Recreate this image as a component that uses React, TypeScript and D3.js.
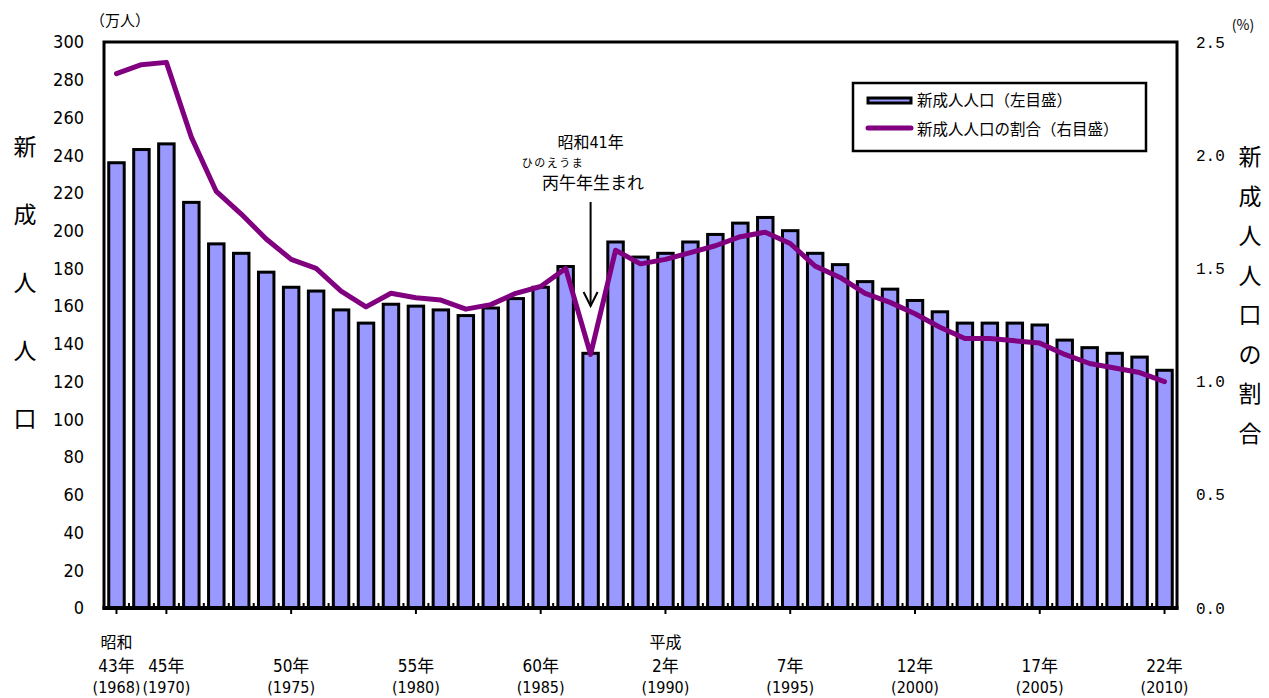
import * as d3 from 'd3';

// 1968..2010 (昭和43年〜平成22年)
const years = [
  1968, 1969, 1970, 1971, 1972, 1973, 1974, 1975, 1976, 1977, 1978, 1979,
  1980, 1981, 1982, 1983, 1984, 1985, 1986, 1987, 1988, 1989,
  1990, 1991, 1992, 1993, 1994, 1995, 1996, 1997, 1998, 1999,
  2000, 2001, 2002, 2003, 2004, 2005, 2006, 2007, 2008, 2009, 2010,
];

// 新成人人口（万人）
const population = [
  236, 243, 246, 215, 193, 188, 178, 170, 168, 158, 151, 161,
  160, 158, 155, 159, 164, 170, 181, 135, 194, 186,
  188, 194, 198, 204, 207, 200, 188, 182, 173, 169,
  163, 157, 151, 151, 151, 150, 142, 138, 135, 133, 126,
];

// 新成人人口の割合（%）
const ratio = [
  2.36, 2.40, 2.41, 2.08, 1.84, 1.74, 1.63, 1.54, 1.50, 1.40, 1.33, 1.39,
  1.37, 1.36, 1.32, 1.34, 1.39, 1.42, 1.50, 1.12, 1.58, 1.52,
  1.54, 1.57, 1.60, 1.64, 1.66, 1.61, 1.51, 1.46, 1.39, 1.35,
  1.30, 1.24, 1.19, 1.19, 1.18, 1.17, 1.12, 1.08, 1.06, 1.04, 1.00,
];

const leftTicks = [0, 20, 40, 60, 80, 100, 120, 140, 160, 180, 200, 220, 240, 260, 280, 300];
const rightTicks = [0, 0.5, 1.0, 1.5, 2.0, 2.5];

const tickYears = [1968, 1970, 1975, 1980, 1985, 1990, 1995, 2000, 2005, 2010];
const tickJp = ['43年', '45年', '50年', '55年', '60年', '2年', '7年', '12年', '17年', '22年'];
const eraLabels = [
  { year: 1968, text: '昭和' },
  { year: 1990, text: '平成' },
];

const leftTitle = ['新', '成', '人', '人', '口'];
const rightTitle = ['新', '成', '人', '人', '口', 'の', '割', '合'];

const hinoeYear = 1987;

const W = 1269;
const H = 698;
const plot = { left: 104, right: 1177, top: 42, bottom: 608 };

const NARROW = "'Liberation Sans Narrow', 'DejaVu Sans Condensed', 'Noto Sans CJK JP', sans-serif";
const JP = "'Noto Sans CJK JP', sans-serif";
const MONO = "'Liberation Mono', 'DejaVu Sans Mono', monospace";

const BAR_FILL = '#9999ff';
const LINE = '#800080';

export default function App() {
  const x = d3
    .scaleBand<number>()
    .domain(years)
    .range([plot.left, plot.right])
    .paddingInner(0)
    .paddingOuter(0);
  const cx = (yr: number) => (x(yr) ?? 0) + x.bandwidth() / 2;

  const yL = d3.scaleLinear().domain([0, 300]).range([plot.bottom, plot.top]);
  const yR = d3.scaleLinear().domain([0, 2.5]).range([plot.bottom, plot.top]);

  const barW = x.bandwidth() * 0.62;

  const line = d3
    .line<number>()
    .x((_, i) => cx(years[i]))
    .y((d) => yR(d));

  const arrowX = cx(hinoeYear);

  return (
    <svg
      width={W}
      height={H}
      style={{ position: 'absolute', left: 0, top: 0, background: '#fff' }}
    >
      {/* bars */}
      {years.map((yr, i) => (
        <rect
          key={yr}
          x={cx(yr) - barW / 2}
          y={yL(population[i])}
          width={barW}
          height={plot.bottom - yL(population[i])}
          fill={BAR_FILL}
          stroke="#000"
          strokeWidth={3}
        />
      ))}

      {/* ratio line */}
      <path
        d={line(ratio) ?? ''}
        fill="none"
        stroke={LINE}
        strokeWidth={5}
        strokeLinejoin="round"
        strokeLinecap="round"
      />

      {/* frame */}
      <rect
        x={plot.left}
        y={plot.top}
        width={plot.right - plot.left}
        height={plot.bottom - plot.top}
        fill="none"
        stroke="#000"
        strokeWidth={3}
      />
      <line x1={plot.left - 1.5} x2={plot.right + 1.5} y1={plot.bottom} y2={plot.bottom} stroke="#000" strokeWidth={4} />

      {/* minor ticks between categories */}
      {years.slice(1).map((yr) => (
        <line key={'m' + yr} x1={x(yr)} x2={x(yr)} y1={plot.bottom} y2={plot.bottom - 5} stroke="#000" strokeWidth={2} />
      ))}
      {/* major ticks */}
      {tickYears.map((yr) => (
        <line key={'t' + yr} x1={cx(yr)} x2={cx(yr)} y1={plot.bottom} y2={plot.bottom + 6} stroke="#000" strokeWidth={2} />
      ))}

      {/* left axis labels */}
      {leftTicks.map((t) => (
        <text key={'l' + t} x={84} y={yL(t)} dy="0.35em" textAnchor="end" fontFamily={NARROW} fontSize={18}>
          {t}
        </text>
      ))}
      <text x={120} y={26} textAnchor="middle" fontFamily={JP} fontSize={15}>
        （万人）
      </text>

      {/* right axis labels */}
      {rightTicks.map((t) => (
        <text key={'r' + t} x={1196} y={yR(t)} dy="0.35em" fontFamily={MONO} fontSize={16}>
          {t.toFixed(1)}
        </text>
      ))}
      <text x={1243} y={30} textAnchor="middle" fontFamily={JP} fontSize={14}>
        (%)
      </text>

      {/* axis titles */}
      {leftTitle.map((c, i) => (
        <text key={'lt' + i} x={25} y={147 + i * 68} dy="0.35em" textAnchor="middle" fontFamily={JP} fontSize={23}>
          {c}
        </text>
      ))}
      {rightTitle.map((c, i) => (
        <text key={'rt' + i} x={1250} y={157 + i * 39.5} dy="0.35em" textAnchor="middle" fontFamily={JP} fontSize={23}>
          {c}
        </text>
      ))}

      {/* x labels */}
      {eraLabels.map((e) => (
        <text key={'e' + e.year} x={cx(e.year)} y={642} dy="0.35em" textAnchor="middle" fontFamily={JP} fontSize={16}>
          {e.text}
        </text>
      ))}
      {tickYears.map((yr, i) => (
        <text key={'j' + yr} x={cx(yr)} y={666} dy="0.35em" textAnchor="middle" fontFamily={NARROW} fontSize={17}>
          {tickJp[i]}
        </text>
      ))}
      {tickYears.map((yr) => (
        <text key={'w' + yr} x={cx(yr)} y={687} dy="0.35em" textAnchor="middle" fontFamily={NARROW} fontSize={16}>
          ({yr})
        </text>
      ))}

      {/* annotation */}
      <text x={arrowX} y={142} dy="0.35em" textAnchor="middle" fontFamily={NARROW} fontSize={16}>
        昭和41年
      </text>
      <text x={553} y={163} dy="0.35em" textAnchor="middle" fontFamily={JP} fontSize={11} letterSpacing={1.5}>
        ひのえうま
      </text>
      <text x={593} y={183} dy="0.35em" textAnchor="middle" fontFamily={JP} fontSize={17}>
        丙午年生まれ
      </text>
      <line x1={arrowX} x2={arrowX} y1={202} y2={306} stroke="#000" strokeWidth={2} />
      <path
        d={`M${arrowX - 7},${292} L${arrowX},${306} L${arrowX + 7},${292}`}
        fill="none"
        stroke="#000"
        strokeWidth={2}
      />

      {/* legend */}
      <rect x={853} y={83} width={293} height={68} fill="#fff" stroke="#000" strokeWidth={2.5} />
      <rect x={868} y={98} width={43} height={5} fill={BAR_FILL} stroke="#000" strokeWidth={3} />
      <text x={917} y={101} dy="0.35em" fontFamily={JP} fontSize={15.5}>
        新成人人口（左目盛）
      </text>
      <line x1={868} x2={911} y1={128} y2={128} stroke={LINE} strokeWidth={5} strokeLinecap="round" />
      <text x={917} y={130} dy="0.35em" fontFamily={JP} fontSize={15.5}>
        新成人人口の割合（右目盛）
      </text>
    </svg>
  );
}
